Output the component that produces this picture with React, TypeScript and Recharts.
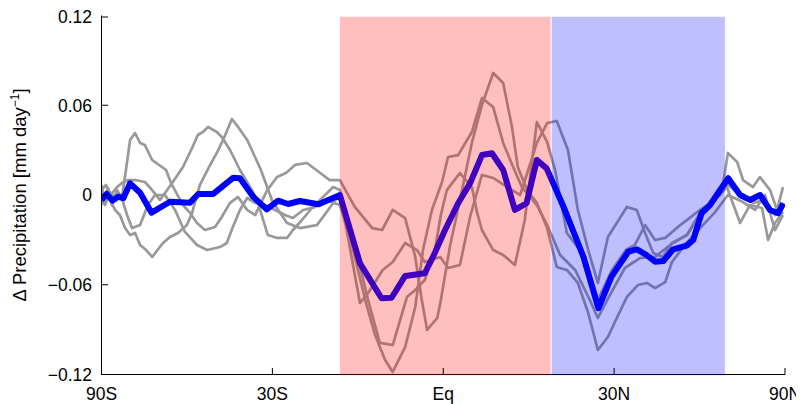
import React from 'react';
import { LineChart, Line, XAxis, YAxis, ReferenceArea } from 'recharts';

// x axis: latitude (degrees), drawn on a sin(latitude) scale
const xTickLats = [-90, -30, 0, 30, 90];
const xTickLabels = ['90S', '30S', 'Eq', '30N', '90N'];
const yTicks = [-0.12, -0.06, 0, 0.06, 0.12];
const yTickLabels = ['\u22120.12', '\u22120.06', '0', '0.06', '0.12'];

// shaded latitude bands
const tropicsBand = [-17.6, 18.3];
const northBand = [18.5, 55.5];

// ensemble mean [lat, value]
const ensembleMean: [number, number][] = [
  [-90, -0.0033], [-80, 0.0007], [-75.3, -0.0038], [-72, -0.0011], [-69.4, -0.0022], [-66.4, 0.0078],
  [-62.5, 0.0015], [-58.6, -0.0118], [-53.1, -0.0045], [-47.8, -0.0051], [-45.8, 0.0007], [-42.3, 0.0007],
  [-37.9, 0.0116], [-36.5, 0.0112], [-33.8, -0.0011], [-31.1, -0.0096], [-28.9, -0.0038], [-27, -0.006],
  [-24.8, -0.004], [-21.4, -0.0062], [-17.6, 0], [-14.1, -0.0457], [-10.4, -0.069], [-8.7, -0.0687],
  [-6.4, -0.0541], [-3.1, -0.0523], [-1.7, -0.0412], [0.3, -0.0234], [2.5, -0.0055], [4.5, 0.0078],
  [6.5, 0.0267], [8.2, 0.0279], [10.1, 0.0167], [12.1, -0.01], [14.1, -0.0055], [15.9, 0.0234],
  [17.6, 0.0178], [20.6, -0.0078], [24.2, -0.0412], [27, -0.0757], [29.5, -0.0546], [32.8, -0.0379],
  [34.5, -0.0363], [36.5, -0.0401], [38.3, -0.0446], [40.1, -0.0441], [42.3, -0.0363], [45.4, -0.0339],
  [47, -0.0301], [49.1, -0.0122], [51.3, -0.0067], [56.5, 0.0112], [60.3, 0], [63.8, -0.0033],
  [68, 0], [72.9, -0.01], [78.6, -0.0122], [84.3, -0.0055],
];

// individual models [lat, value]
const modelA: [number, number][] = [
  [-90, 0.0067], [-83.1, -0.0033], [-78.8, 0.0047], [-75.8, -0.0067], [-72.7, 0.0033], [-70.1, -0.002],
  [-68.2, 0.0167], [-66.4, 0.0368], [-64.4, 0.0414], [-62.5, 0.0348], [-60.8, 0.0334], [-58.4, 0.0234],
  [-55.4, 0.0187], [-54.2, 0.0167], [-52.8, 0.008], [-49.6, -0.0067], [-47.8, -0.012], [-46.1, -0.0187],
  [-44.2, -0.0234], [-41.9, -0.0214], [-40.4, -0.0147], [-38.6, -0.0053], [-36.9, -0.0013], [-35.0, -0.01],
  [-33.4, -0.0134], [-31.0, 0.0033], [-29.1, 0.012], [-27.4, 0.0147], [-25.7, 0.0201], [-23.5, 0.0214],
  [-21.1, 0.0147], [-19.4, 0.01], [-17.6, 0.01],
  [-15.0, -0.008], [-12.0, -0.0221], [-10.3, -0.0234], [-8.5, -0.01], [-6.4, -0.0154], [-4.7, -0.0414],
  [-3.6, -0.0702], [-2.7, -0.0902], [-1.0, -0.0822], [-0.4, -0.0702], [1.1, -0.0348], [2.8, -0.0033],
  [4.8, 0.0348], [6.5, 0.0602], [8.4, 0.0816], [10.1, 0.0749], [11.6, 0.0455], [12.6, 0.0187],
  [14.2, 0.0033], [15.9, -0.0053], [17.7, -0.0221], [19.4, -0.0481], [21.2, -0.0501], [23.2, -0.0588],
  [25.1, -0.0789], [26.9, -0.1036], [28.8, -0.0949], [30.6, -0.0816], [32.5, -0.0682], [34.7, -0.0602],
  [36.6, -0.0588], [38.3, -0.0622], [40.5, -0.0582], [42.0, -0.0448], [45.0, -0.0334], [48.7, -0.0221],
  [52.7, -0.0114], [56.4, 0], [61.3, -0.0047], [65.8, -0.01], [70.3, 0], [76.1, -0.0234], [83.8, -0.0134],
];

const modelB: [number, number][] = [
  [-90, 0.0033], [-80.7, 0.0067], [-76.5, 0], [-73.2, 0.0047], [-70.1, 0.008], [-67.3, 0.01],
  [-64.4, 0.01], [-60.8, 0.0087], [-58.4, 0.0033], [-56.0, -0.0033], [-53.9, 0.0033], [-52.3, 0.0087],
  [-49.6, 0.0187], [-47.3, 0.0314], [-45.9, 0.0401], [-44.7, 0.0421], [-43.5, 0.0455], [-41.5, 0.0421],
  [-40.4, 0.0388], [-38.6, 0.0301], [-36.5, 0.0167], [-34.4, 0.0053], [-33.0, -0.0033], [-31.8, -0.0167],
  [-30.9, -0.0267], [-29.1, -0.0287], [-27.2, -0.0287], [-26.1, -0.0234], [-24.4, -0.0167], [-22.6, -0.0087],
  [-18.8, 0.0053], [-17.6, 0.0033],
  [-15.0, -0.0334], [-12.7, -0.0702], [-10.7, -0.0989], [-8.5, -0.1003], [-6.1, -0.0682], [-4.7, -0.0635],
  [-3.1, -0.0568], [-1.4, -0.0368], [-0.4, -0.0134], [0.6, 0.0033], [2.8, 0.0147], [4.8, 0.0053],
  [5.7, -0.012], [6.5, -0.0234], [8.4, -0.0368], [10.1, -0.0401], [12.1, -0.0468], [13.8, -0.0167],
  [15.9, 0.0488], [17.7, 0.0354], [19.1, 0.0167], [21.2, -0.0254], [24.5, -0.0414], [26.9, -0.0702],
  [29.6, -0.0501], [32.3, -0.0368], [34.1, -0.0334], [36.2, -0.0201], [38.3, -0.0301], [40.5, -0.0287],
  [43.9, -0.0201], [48.7, -0.01], [52.7, -0.0033], [56.1, 0.0053], [60.3, -0.0187], [63.8, -0.0067],
  [68.9, -0.0087], [71.9, -0.0301], [76.1, -0.0187], [83.8, -0.0114],
];

const modelC: [number, number][] = [
  [-90, -0.0067], [-81.8, 0], [-77.2, -0.0033], [-73.8, -0.01], [-71.1, -0.0134], [-68.6, -0.0221],
  [-66.4, -0.0267], [-64.4, -0.0254], [-62.5, -0.0334], [-60.4, -0.0368], [-58.4, -0.0414], [-55.1, -0.0321],
  [-53.1, -0.0281], [-50.9, -0.0254], [-48.6, -0.0201], [-47.3, -0.012], [-45.4, 0.0067], [-43.0, 0.0201],
  [-41.5, 0.0281], [-40.1, 0.0368], [-38.2, 0.0508], [-36.9, 0.0455], [-35.0, 0.0368], [-33.8, 0.0281],
  [-32.4, 0.018], [-31.0, 0.0053], [-30.1, -0.0033], [-28.5, -0.012], [-27.2, -0.0187], [-24.8, -0.0221],
  [-21.7, -0.0201], [-20.6, -0.0147], [-18.8, -0.0053], [-17.6, 0],
  [-16.2, -0.0281], [-14.1, -0.0722], [-12.7, -0.0655], [-10.2, -0.0501], [-8.5, -0.0448], [-6.4, -0.0321],
  [-4.4, -0.0368], [-3.1, -0.0448], [-0.5, -0.0414], [0.8, -0.0488], [2.8, -0.0468], [4.5, -0.0147],
  [6.5, 0.0134], [8.4, 0.0114], [10.8, 0.0053], [13.0, 0], [14.4, 0.0167], [15.9, 0.0348],
  [17.7, 0.0481], [19.4, 0.0495], [21.4, 0.0301], [23.2, -0.01], [25.1, -0.0368], [26.9, -0.0588],
  [28.8, -0.0281], [32.5, -0.008], [34.5, -0.01], [36.2, -0.0254], [37.9, -0.0388], [40.0, -0.0414],
  [42.0, -0.0321], [45.5, -0.0267], [48.7, -0.012], [51.3, -0.0053], [54.7, 0.0033], [56.4, 0.0281],
  [59.3, 0.0221], [61.3, 0.01], [65.0, 0.0053], [67.9, 0.012], [73.0, 0.0033], [77.6, -0.01], [83.8, 0.0053],
];

const modelD: [number, number][] = [
  [-90, 0], [-81.8, -0.0067], [-77.2, 0.002], [-73.2, -0.0033], [-70.6, 0], [-67.7, -0.0134],
  [-65.6, -0.0221], [-62.5, -0.0201], [-59.8, -0.0067], [-57.5, 0], [-54.5, 0], [-51.7, -0.01],
  [-49.1, -0.0247], [-46.1, -0.0334], [-43.7, -0.0368], [-40.8, -0.0348], [-39.3, -0.0321], [-38.0, -0.0214],
  [-36.5, -0.01], [-35.0, -0.002], [-33.4, -0.0053], [-31.4, -0.0067], [-29.5, -0.01], [-27.6, -0.0134],
  [-26.1, -0.0154], [-24.2, -0.01], [-22.0, -0.008], [-20.2, -0.0033], [-17.6, -0.0067],
  [-15.5, -0.0334], [-13.2, -0.0702], [-11.5, -0.0936], [-9.8, -0.1103], [-8.5, -0.1183], [-6.4, -0.1016],
  [-4.7, -0.0749], [-3.4, -0.0368], [-1.9, -0.01], [-0.2, 0.0087], [0.8, 0.0254], [2.5, 0.0267],
  [4.8, 0.0421], [6.5, 0.0648], [8.4, 0.0588], [10.1, 0.0348], [11.8, 0.0187], [13.3, 0.0053],
  [15.9, -0.0067], [17.7, -0.0201], [20.0, -0.0401], [22.7, -0.0501], [25.4, -0.0702], [26.9, -0.0822],
  [29.2, -0.0668], [32.1, -0.0488], [35.2, -0.0421], [38.3, -0.0414], [41.6, -0.0334], [45.5, -0.0267],
  [48.7, -0.0134], [51.9, -0.0033], [54.1, 0], [56.4, 0.0067], [60.3, 0], [65.0, -0.0053],
  [70.3, -0.0033], [76.1, -0.0134], [83.8, -0.0067],
];

const models = [modelA, modelB, modelC, modelD];

const toX = (lat: number) => Math.sin((lat * Math.PI) / 180);
const toPoints = (s: [number, number][]) => s.map(([lat, v]) => ({ x: toX(lat), y: v }));

const FONT = '"Liberation Sans", Arial, Helvetica, sans-serif';

const XTick = (props: any) => {
  const { x, y, payload } = props;
  let idx = 0;
  xTickLats.forEach((lat, i) => {
    if (Math.abs(toX(lat) - payload.value) < 1e-6) idx = i;
  });
  return (
    <g>
      <line x1={x} x2={x} y1={y} y2={y - 6.5} stroke="#000" strokeWidth={1} />
      <text x={x} y={y + 25.5} textAnchor="middle" fontSize={17.5} fontFamily={FONT} fill="#000">
        {xTickLabels[idx]}
      </text>
    </g>
  );
};

const YTick = (props: any) => {
  const { x, y, payload } = props;
  let idx = 0;
  yTicks.forEach((t, i) => {
    if (Math.abs(t - payload.value) < 1e-9) idx = i;
  });
  return (
    <g>
      <line x1={x} x2={x + 6.5} y1={y} y2={y} stroke="#000" strokeWidth={1} />
      <text x={x - 9.5} y={y + 6.3} textAnchor="end" fontSize={17.5} fontFamily={FONT} fill="#000">
        {yTickLabels[idx]}
      </text>
    </g>
  );
};

export default function App() {
  return (
    <div style={{ width: 796, height: 396 }}>
      <LineChart width={796} height={396} margin={{ top: 7.5, right: 19, bottom: 0, left: 0 }}>
        <XAxis
          type="number"
          dataKey="x"
          domain={[-1, 1]}
          ticks={xTickLats.map(toX)}
          tick={<XTick />}
          tickLine={false}
          tickSize={0}
          tickMargin={0}
          height={29.5}
          axisLine={{ stroke: '#000', strokeWidth: 1 }}
          allowDataOverflow
        />
        <YAxis
          type="number"
          dataKey="y"
          domain={[-0.12, 0.12]}
          ticks={yTicks}
          tick={<YTick />}
          tickLine={false}
          tickSize={0}
          tickMargin={0}
          width={93.5}
          axisLine={{ stroke: '#000', strokeWidth: 1 }}
          allowDataOverflow
        />
        {models.map((m, i) => (
          <Line
            key={i}
            data={toPoints(m)}
            dataKey="y"
            type="linear"
            stroke="#999999"
            strokeWidth={2.7}
            strokeLinejoin="round"
            dot={false}
            activeDot={false}
            isAnimationActive={false}
          />
        ))}
        <Line
          data={toPoints(ensembleMean)}
          dataKey="y"
          type="linear"
          stroke="#0000ff"
          strokeWidth={6}
          strokeLinejoin="round"
          dot={false}
          activeDot={false}
          isAnimationActive={false}
        />
        <ReferenceArea
          x1={toX(tropicsBand[0])}
          x2={toX(tropicsBand[1])}
          y1={-0.1205}
          y2={0.1192}
          fill="#ff0000"
          fillOpacity={0.25}
          stroke="none"
          ifOverflow="visible"
          zIndex={1000}
        />
        <ReferenceArea
          x1={toX(northBand[0])}
          x2={toX(northBand[1])}
          y1={-0.1205}
          y2={0.1192}
          fill="#0000ff"
          fillOpacity={0.25}
          stroke="none"
          ifOverflow="visible"
          zIndex={1000}
        />
        <text
          transform="translate(18.2,187) rotate(-90)"
          textAnchor="middle"
          fontSize={18.5}
          fontFamily={FONT}
          fill="#000"
        >
          {'\u0394 Precipitation [mm day'}
          <tspan fontSize={12} dy={-7}>{'\u22121'}</tspan>
          <tspan fontSize={18.5} dy={7}>{']'}</tspan>
        </text>
      </LineChart>
    </div>
  );
}
